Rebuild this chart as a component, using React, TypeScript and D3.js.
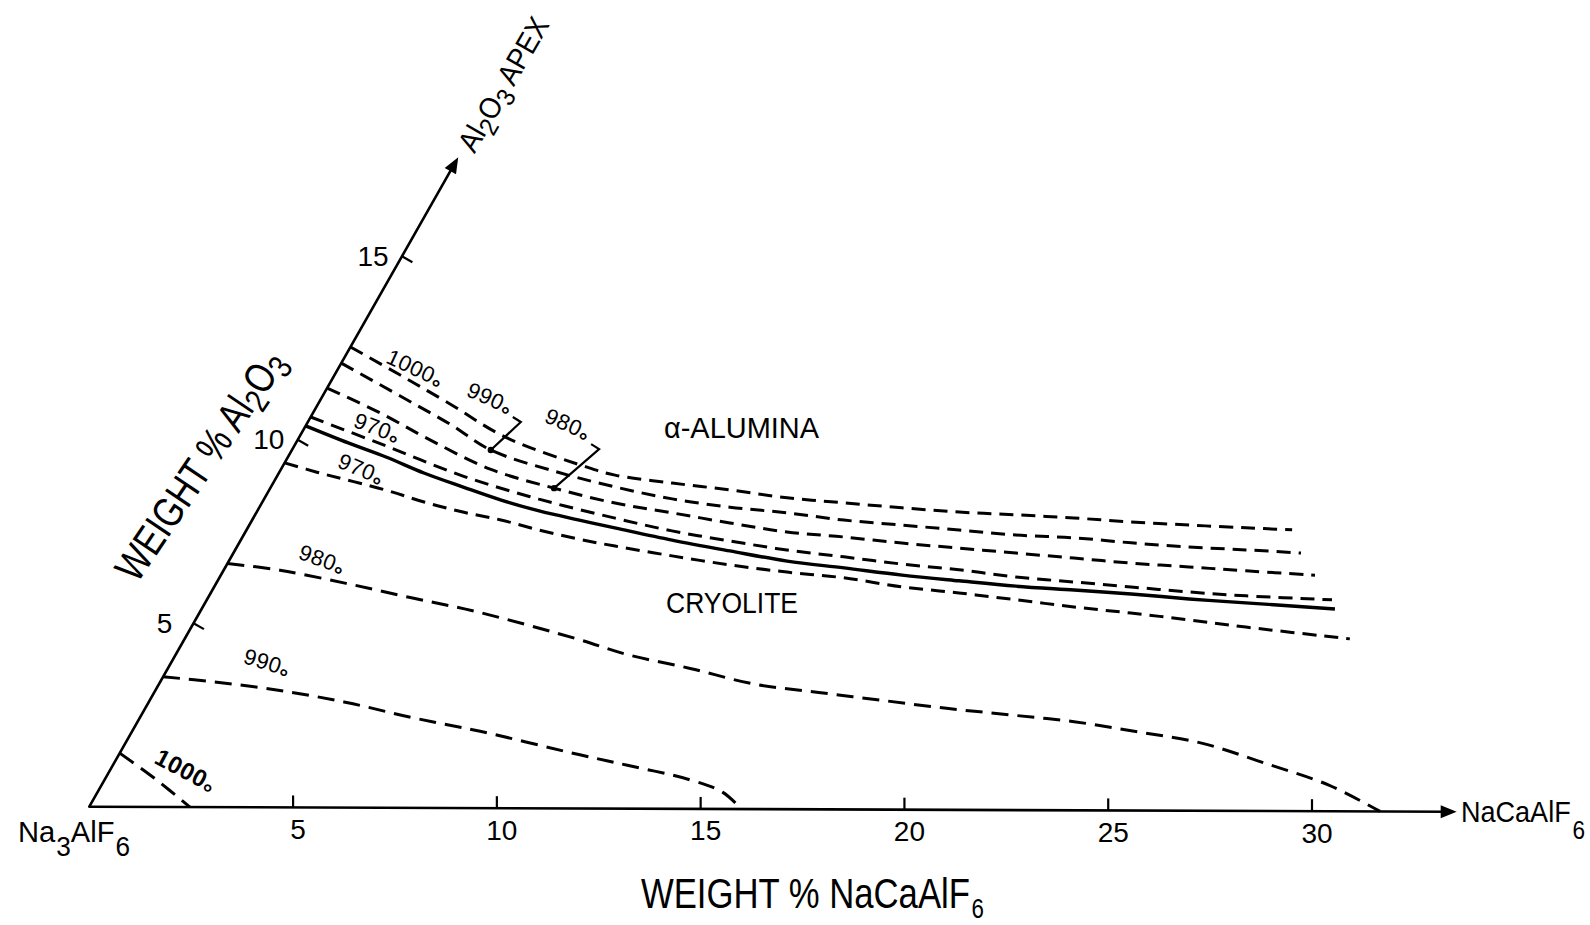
import React from 'react';
import * as d3 from 'd3';

type Pt = [number, number]; // [wt% NaCaAlF6, wt% Al2O3]

// Isotherms on the alpha-alumina liquidus surface
const iso1000A: Pt[] = [[0, 12.53], [1.61, 11.77], [3.23, 10.99], [5.03, 10.1], [7.44, 9.29], [8.26, 9.07], [9.77, 8.86], [11.28, 8.68], [12.79, 8.47], [14.25, 8.34], [15.74, 8.21], [17.2, 8.1], [18.63, 8.03], [20.09, 7.95], [21.54, 7.85], [23.01, 7.77], [24.44, 7.7], [25.6, 7.65]];
const iso990A: Pt[] = [[0, 12.09], [1.9, 11.2], [3.51, 10.44], [4.87, 9.74], [6.8, 9.15], [8.42, 8.75], [9.99, 8.43], [11.52, 8.21], [13.0, 8.06], [14.49, 7.87], [15.98, 7.74], [17.45, 7.61], [18.91, 7.48], [20.37, 7.41], [21.84, 7.28], [23.31, 7.17], [24.75, 7.1], [26.14, 7.02]];
const iso980A: Pt[] = [[0, 11.41], [1.64, 10.74], [3.24, 10.01], [5.12, 9.22], [6.95, 8.71], [8.65, 8.31], [10.18, 8.05], [11.74, 7.78], [13.26, 7.54], [14.73, 7.41], [16.23, 7.25], [17.7, 7.12], [19.16, 6.99], [20.65, 6.86], [22.11, 6.73], [23.59, 6.63], [25.04, 6.53], [26.79, 6.42]];
const iso970A: Pt[] = [[0, 10.62], [2.25, 9.84], [4.55, 9.03], [6.73, 8.41], [8.86, 7.9], [10.43, 7.56], [11.99, 7.29], [13.51, 7.05], [15.0, 6.87], [16.52, 6.68], [18.0, 6.53], [19.49, 6.34], [20.98, 6.21], [22.45, 6.08], [23.94, 5.95], [25.39, 5.85], [27.55, 5.75]];

// Cryolite / alpha-alumina field boundary
const boundary: Pt[] = [[0, 10.38], [1.28, 9.92], [2.4, 9.54], [3.55, 9.11], [4.71, 8.73], [5.82, 8.38], [6.9, 8.09], [7.98, 7.85], [9.02, 7.63], [10.56, 7.31], [12.13, 7.02], [13.67, 6.75], [15.16, 6.57], [16.68, 6.38], [18.15, 6.23], [19.62, 6.09], [21.1, 5.99], [22.55, 5.89], [24.04, 5.76], [25.48, 5.66], [27.75, 5.5]];

// Isotherms on the cryolite liquidus surface
const iso970C: Pt[] = [[0, 9.37], [0.92, 9.12], [2.86, 8.64], [3.96, 8.32], [5.05, 8.05], [6.09, 7.84], [7.16, 7.57], [8.24, 7.33], [9.25, 7.14], [10.78, 6.88], [12.32, 6.64], [13.82, 6.45], [15.29, 6.3], [16.84, 6.06], [18.32, 5.9], [19.81, 5.72], [21.33, 5.53], [22.81, 5.37], [24.33, 5.19], [25.82, 5.0], [28.53, 4.69]];
const iso980C: Pt[] = [[0, 6.63], [1.38, 6.45], [3.18, 6.1], [4.95, 5.72], [6.82, 5.33], [9.65, 4.6], [11.02, 4.2], [12.79, 3.82], [14.58, 3.4], [16.27, 3.18], [17.94, 2.97], [19.62, 2.76], [21.26, 2.59], [22.93, 2.41], [24.63, 2.14], [26.35, 1.84], [28.18, 1.3], [30.05, 0.71], [31.67, 0]];
const iso990C: Pt[] = [[0, 3.54], [1.3, 3.41], [3.05, 3.18], [4.85, 2.86], [6.69, 2.45], [8.52, 2.09], [11.29, 1.46], [12.6, 1.18], [14.3, 0.8], [15.3, 0.46], [16.0, 0]];
const iso1000C: Pt[] = [[0, 1.46], [1.2, 0.78], [2.47, 0]];

const xTicks = [5, 10, 15, 20, 25, 30];
const aTicks = [5, 10, 15];
const xAxisEnd = 33.55;
const aAxisEnd = 17.7;

// Temperature labels: text, anchor in composition units, rotation (deg)
const isoLabels = [
  { text: '1000', at: [1.88, 11.96] as Pt, angle: 25, size: 22, bold: false },
  { text: '990', at: [4.13, 11.15] as Pt, angle: 24, size: 22, bold: false },
  { text: '980', at: [6.4, 10.45] as Pt, angle: 24, size: 22, bold: false },
  { text: '970', at: [1.78, 10.33] as Pt, angle: 21, size: 22, bold: false },
  { text: '970', at: [1.96, 9.21] as Pt, angle: 23, size: 22, bold: false },
  { text: '980', at: [2.26, 6.75] as Pt, angle: 20, size: 22, bold: false },
  { text: '990', at: [2.35, 3.94] as Pt, angle: 17, size: 22, bold: false },
  { text: '1000', at: [1.86, 1.0] as Pt, angle: 28, size: 24, bold: true },
];

// Leader brackets from a label to its isotherm
const leaders = [
  { line: iso990A, c: 4.87, dx: 30, dy: -28 },
  { line: iso980A, c: 6.95, dx: 45, dy: -39 },
];

const W = 1590;
const H = 925;
const ORIGIN = { x: 89.3, y: 806.7 };
const THETA = (60.4 * Math.PI) / 180;
const TILT = (0.21 * Math.PI) / 180;
const xScale = d3.scaleLinear().domain([0, 30]).range([0, 1222.7]);
const aScale = d3.scaleLinear().domain([0, 15]).range([0, 633]);

const project = ([c, a]: Pt): [number, number] => [
  ORIGIN.x + xScale(c) * Math.cos(TILT) + aScale(a) * Math.cos(THETA),
  ORIGIN.y + xScale(c) * Math.sin(TILT) - aScale(a) * Math.sin(THETA),
];

const lineGen = d3
  .line<Pt>()
  .x((p) => project(p)[0])
  .y((p) => project(p)[1])
  .curve(d3.curveCatmullRom.alpha(0.5));

const interpA = (line: Pt[], c: number): number => {
  for (let i = 0; i < line.length - 1; i++) {
    const [c0, a0] = line[i];
    const [c1, a1] = line[i + 1];
    if (c >= c0 && c <= c1) return a0 + ((c - c0) / (c1 - c0)) * (a1 - a0);
  }
  return line[line.length - 1][1];
};

const arrowHead = (tip: [number, number], ux: number, uy: number, len = 16, half = 6.5) => {
  const px = -uy;
  const py = ux;
  const bx = tip[0] - ux * len;
  const by = tip[1] - uy * len;
  return `${tip[0]},${tip[1]} ${bx + px * half},${by + py * half} ${bx - px * half},${by - py * half}`;
};

const FONT = "'Liberation Sans', Arial, Helvetica, sans-serif";

export default function App() {
  const origin = project([0, 0]);
  const xEnd = project([xAxisEnd, 0]);
  const aEnd = project([0, aAxisEnd]);
  const xDir = [Math.cos(TILT), Math.sin(TILT)];
  const aDir = [Math.cos(THETA), -Math.sin(THETA)];
  // unit normal pointing to the right of the oblique edge
  const aNorm = [Math.sin(THETA), Math.cos(THETA)];

  const upper = [iso1000A, iso990A, iso980A, iso970A, iso970C];
  const lowerLong = [iso980C, iso990C, iso1000C];

  return (
    <svg
      width={W}
      height={H}
      style={{ position: 'absolute', left: 0, top: 0, background: '#fff' }}
      fontFamily={FONT}
    >
      <rect width={W} height={H} fill="#fff" />

      {/* axes */}
      <line x1={origin[0]} y1={origin[1]} x2={xEnd[0] - xDir[0] * 10} y2={xEnd[1] - xDir[1] * 10} stroke="#000" strokeWidth={2.6} />
      <polygon points={arrowHead(xEnd, xDir[0], xDir[1])} fill="#000" />
      <line x1={origin[0]} y1={origin[1]} x2={aEnd[0] - aDir[0] * 10} y2={aEnd[1] - aDir[1] * 10} stroke="#000" strokeWidth={2.6} strokeLinecap="round" />
      <polygon points={arrowHead(aEnd, aDir[0], aDir[1])} fill="#000" />

      {xTicks.map((t) => {
        const p = project([t, 0]);
        return (
          <g key={`xt${t}`}>
            <line x1={p[0]} y1={p[1]} x2={p[0]} y2={p[1] - 12} stroke="#000" strokeWidth={2.2} />
            <text x={p[0] + 5} y={p[1] + 22} fontSize={28} textAnchor="middle" dominantBaseline="central">
              {t}
            </text>
          </g>
        );
      })}
      {aTicks.map((t) => {
        const p = project([0, t]);
        return (
          <g key={`at${t}`}>
            <line x1={p[0]} y1={p[1]} x2={p[0] + aNorm[0] * 12} y2={p[1] + aNorm[1] * 12} stroke="#000" strokeWidth={2.2} />
            <text x={p[0] - 29} y={p[1]} fontSize={28} textAnchor="middle" dominantBaseline="central">
              {t}
            </text>
          </g>
        );
      })}

      {/* isotherms */}
      {upper.map((d, i) => (
        <path key={`u${i}`} d={lineGen(d) ?? ''} fill="none" stroke="#000" strokeWidth={3} strokeDasharray="14 8" />
      ))}
      {lowerLong.map((d, i) => (
        <path key={`ll${i}`} d={lineGen(d) ?? ''} fill="none" stroke="#000" strokeWidth={3} strokeDasharray="17 9" />
      ))}
      <path d={lineGen(boundary) ?? ''} fill="none" stroke="#000" strokeWidth={3.4} />

      {/* leaders */}
      {leaders.map((l, i) => {
        const dot = project([l.c, interpA(l.line, l.c)]);
        const corner = [dot[0] + l.dx, dot[1] + l.dy];
        const hook = [corner[0] - 8, corner[1] - 5];
        return (
          <g key={`ld${i}`}>
            <path d={`M${hook[0]},${hook[1]} L${corner[0]},${corner[1]} L${dot[0]},${dot[1]}`} fill="none" stroke="#000" strokeWidth={2.2} />
            <circle cx={dot[0]} cy={dot[1]} r={3.2} fill="#000" />
          </g>
        );
      })}

      {/* temperature labels */}
      {isoLabels.map((l, i) => {
        const p = project(l.at);
        return (
          <text
            key={`il${i}`}
            transform={`translate(${p[0]},${p[1]}) rotate(${l.angle})`}
            fontSize={l.size}
            fontWeight={l.bold ? 'bold' : 'normal'}
            textAnchor="middle"
            dominantBaseline="central"
            letterSpacing={0.5}
          >
            {l.text}
            <tspan dy="0.4em" fontWeight="bold">°</tspan>
          </text>
        );
      })}

      {/* field labels */}
      <text x={664} y={438} fontSize={30} textLength={155} lengthAdjust="spacingAndGlyphs">
        α-ALUMINA
      </text>
      <text x={666} y={613} fontSize={30} textLength={132} lengthAdjust="spacingAndGlyphs">
        CRYOLITE
      </text>

      {/* component labels */}
      <text x={18} y={842} fontSize={30} textLength={112} lengthAdjust="spacingAndGlyphs">
        Na<tspan dx={1} dy={14} fontSize={27}>3</tspan>
        <tspan dy={-14}>AlF</tspan>
        <tspan dx={1} dy={14} fontSize={27}>6</tspan>
      </text>
      <text x={1461} y={822} fontSize={30} textLength={124} lengthAdjust="spacingAndGlyphs">
        NaCaAlF<tspan dx={2} dy={17} fontSize={25}>6</tspan>
      </text>

      {/* axis titles */}
      <text x={641} y={908} fontSize={42} textLength={343} lengthAdjust="spacingAndGlyphs">
        WEIGHT % NaCaAlF<tspan dx={2} dy={10} fontSize={27}>6</tspan>
      </text>
      <text
        transform="translate(200,465) rotate(-56)"
        fontSize={42}
        textAnchor="middle"
        dominantBaseline="central"
        textLength={268}
        lengthAdjust="spacingAndGlyphs"
      >
        WEIGHT % Al<tspan dy={11} fontSize={34}>2</tspan>
        <tspan dy={-11}>O</tspan>
        <tspan dy={11} fontSize={34}>3</tspan>
      </text>
      <text
        transform="translate(503,84) rotate(-60)"
        fontSize={30}
        textAnchor="middle"
        dominantBaseline="central"
        textLength={150}
        lengthAdjust="spacingAndGlyphs"
      >
        Al<tspan dy={9} fontSize={26}>2</tspan>
        <tspan dy={-9}>O</tspan>
        <tspan dy={9} fontSize={26}>3</tspan>
        <tspan dy={-9}> APEX</tspan>
      </text>
    </svg>
  );
}
